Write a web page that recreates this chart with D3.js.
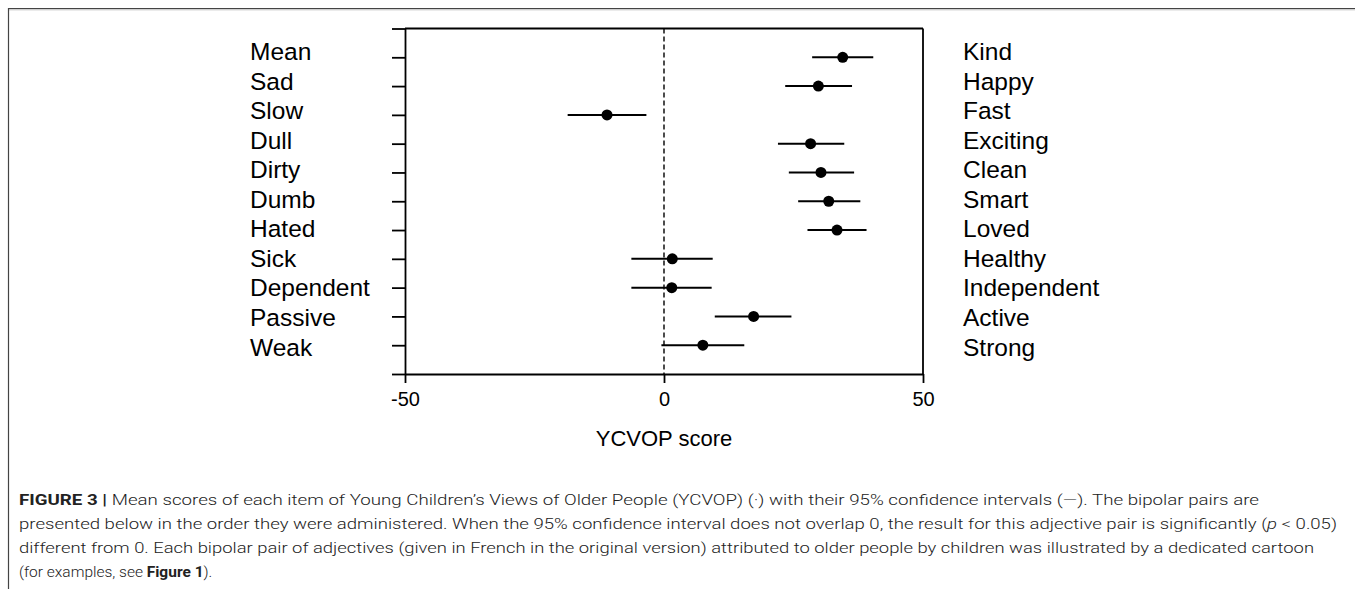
<!DOCTYPE html>
<html>
<head>
<meta charset="utf-8">
<script src="https://cdn.jsdelivr.net/npm/d3@7"></script>
<style>
  body { margin: 0; background: #fff; }
  svg text { font-family: "Liberation Sans", Arial, sans-serif; }
  .caption text { font-family: Roboto, "Liberation Sans", sans-serif; font-weight: 300; fill: #222; }
</style>
</head>
<body>
<div id="chart"></div>
<script>
// data
var leftLabels = ["Mean", "Sad", "Slow", "Dull", "Dirty", "Dumb", "Hated", "Sick", "Dependent", "Passive", "Weak"];
var rightLabels = ["Kind", "Happy", "Fast", "Exciting", "Clean", "Smart", "Loved", "Healthy", "Independent", "Active", "Strong"];
var means = [34.5, 29.8, -11.0, 28.3, 30.3, 31.8, 33.4, 1.6, 1.5, 17.3, 7.5];
var lower = [28.6, 23.4, -18.6, 22.0, 24.1, 25.9, 27.7, -6.3, -6.3, 9.8, -0.5];
var upper = [40.4, 36.3, -3.4, 34.8, 36.7, 37.9, 39.1, 9.4, 9.2, 24.6, 15.5];
var xTicks = [-50, 0, 50];
var yTicks = d3.range(0, 13);

var data = leftLabels.map(function(d, i) {
  return {left: d, right: rightLabels[i], mean: means[i], lo: lower[i], hi: upper[i], pos: 11 - i};
});

var W = 1355, H = 589;
var svg = d3.select("#chart").append("svg")
  .attr("width", W)
  .attr("height", H);

// figure frame (top + left rule)
svg.append("line").attr("x1", 8).attr("x2", W).attr("y1", 8.5).attr("y2", 8.5)
  .attr("stroke", "#444").attr("stroke-width", 1.2);
svg.append("line").attr("x1", 8).attr("x2", W).attr("y1", 9.8).attr("y2", 9.8)
  .attr("stroke", "#bbb").attr("stroke-width", 1);
svg.append("line").attr("x1", 8.5).attr("x2", 8.5).attr("y1", 8).attr("y2", H)
  .attr("stroke", "#444").attr("stroke-width", 1.2);

// scales
var x = d3.scaleLinear().domain([-50, 50]).range([405, 923]);
var y = d3.scaleLinear().domain([0, 12]).range([374, 28.5]);
// label rows drift a little from the tick rows in the original
var labelY = d3.scalePoint().domain(leftLabels).range([60, 355.5]);

var plot = svg.append("g");

// left axis: ticks only
plot.append("g")
  .attr("transform", "translate(" + x(-50) + ",0)")
  .call(d3.axisLeft(y).tickValues(yTicks).tickSize(13).tickSizeOuter(0).tickFormat(""))
  .call(function(g) { g.selectAll("path, line").attr("stroke", "#000").attr("stroke-width", 1.8); });

// bottom axis (plain hyphen for negatives, as in the original)
plot.append("g")
  .attr("transform", "translate(0," + y(0) + ")")
  .call(d3.axisBottom(x).tickValues(xTicks).tickSize(9).tickSizeOuter(0).tickPadding(9)
    .tickFormat(function(d) { return String(d); }))
  .call(function(g) {
    g.selectAll("path, line").attr("stroke", "#000").attr("stroke-width", 1.8);
    g.selectAll("text").attr("font-size", 20).attr("fill", "#000")
      .style("font-family", "'Liberation Sans', Arial, sans-serif");
  });

// top and right borders of the box
plot.append("line")
  .attr("x1", x(-50)).attr("x2", x(50)).attr("y1", y(12)).attr("y2", y(12))
  .attr("stroke", "#000").attr("stroke-width", 1.8);
plot.append("line")
  .attr("x1", x(50)).attr("x2", x(50)).attr("y1", y(12)).attr("y2", y(0))
  .attr("stroke", "#000").attr("stroke-width", 1.8);

// reference line at 0
plot.append("line")
  .attr("x1", x(0)).attr("x2", x(0)).attr("y1", y(12)).attr("y2", y(0))
  .attr("stroke", "#000").attr("stroke-width", 1.4)
  .attr("stroke-dasharray", "5,3");

// confidence intervals
plot.selectAll("line.ci")
  .data(data)
  .enter()
  .append("line")
    .attr("class", "ci")
    .attr("x1", function(d) { return x(d.lo); })
    .attr("x2", function(d) { return x(d.hi); })
    .attr("y1", function(d) { return y(d.pos); })
    .attr("y2", function(d) { return y(d.pos); })
    .attr("stroke", "#000")
    .attr("stroke-width", 2);

// means
plot.selectAll("circle")
  .data(data)
  .enter()
  .append("circle")
    .attr("cx", function(d) { return x(d.mean); })
    .attr("cy", function(d) { return y(d.pos); })
    .attr("r", 5.5)
    .attr("fill", "#000");

// adjective labels
plot.selectAll("text.left")
  .data(data)
  .enter()
  .append("text")
    .attr("class", "left")
    .attr("x", 250)
    .attr("y", function(d) { return labelY(d.left); })
    .attr("font-size", 24.5)
    .text(function(d) { return d.left; });

plot.selectAll("text.right")
  .data(data)
  .enter()
  .append("text")
    .attr("class", "right")
    .attr("x", 963)
    .attr("y", function(d) { return labelY(d.left); })
    .attr("font-size", 24.5)
    .text(function(d) { return d.right; });

// axis title
plot.append("text")
  .attr("x", x(0))
  .attr("y", 446)
  .attr("text-anchor", "middle")
  .attr("font-size", 22)
  .text("YCVOP score");

// caption
var cap = svg.append("g").attr("class", "caption").attr("font-size", 15.5);

var l1 = cap.append("text").attr("x", 19).attr("y", 505)
  .attr("textLength", 1240).attr("lengthAdjust", "spacingAndGlyphs");
l1.append("tspan").attr("font-weight", 700).text("FIGURE 3 | ");
l1.append("tspan").text("Mean scores of each item of Young Children\u2019s Views of Older People (YCVOP) (\u00b7) with their 95% confidence intervals (\u2014). The bipolar pairs are");

var l2 = cap.append("text").attr("x", 19).attr("y", 529)
  .attr("textLength", 1318).attr("lengthAdjust", "spacingAndGlyphs");
l2.append("tspan").text("presented below in the order they were administered. When the 95% confidence interval does not overlap 0, the result for this adjective pair is significantly (");
l2.append("tspan").attr("font-style", "italic").text("p");
l2.append("tspan").text(" < 0.05)");

cap.append("text").attr("x", 19).attr("y", 553)
  .attr("textLength", 1295).attr("lengthAdjust", "spacingAndGlyphs")
  .text("different from 0. Each bipolar pair of adjectives (given in French in the original version) attributed to older people by children was illustrated by a dedicated cartoon");

var l4 = cap.append("text").attr("x", 19).attr("y", 577);
l4.append("tspan").text("(for examples, see ");
l4.append("tspan").attr("font-weight", 700).text("Figure 1");
l4.append("tspan").text(").");
</script>
</body>
</html>
